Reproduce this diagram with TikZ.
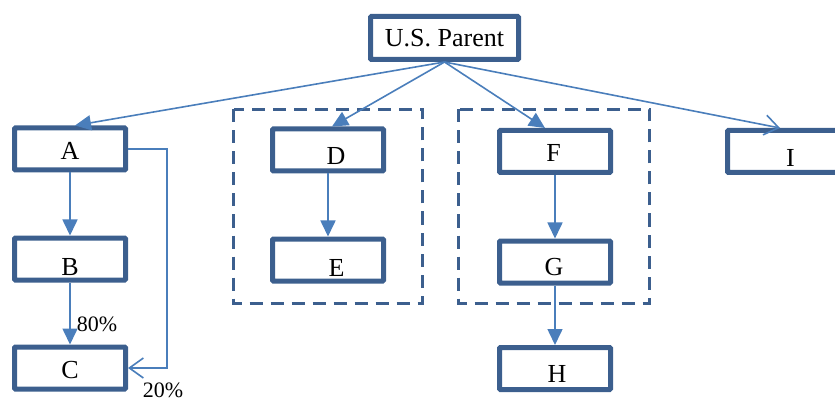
\documentclass[tikz,border=0pt]{standalone}
\usepackage{fontspec}
\setmainfont{Liberation Serif}
\usepackage{tikz}
\usetikzlibrary{arrows.meta,shapes,backgrounds,calc}
\definecolor{boxblue}{RGB}{60,95,142}
\definecolor{linkblue}{RGB}{74,126,187}

\begin{document}
\begin{tikzpicture}[x=1pt,y=-1pt,
    unit/.style={draw=boxblue,line width=5pt,rounded corners=1pt,
      minimum width=111pt,minimum height=42pt,inner sep=0pt},
    lbl/.style={font=\fontsize{26}{30}\selectfont,inner sep=0pt},
    link/.style={draw=linkblue,line width=1.6pt,-{Triangle[length=16pt,width=15pt]}},
    openlink/.style={draw=linkblue,line width=1.6pt,-{Straight Barb[length=14pt,width=20pt]}},
    group/.style={draw=boxblue,line width=3.2pt,dash pattern=on 13pt off 8pt},
    pct/.style={font=\fontsize{22}{26}\selectfont,inner sep=0pt}]
  \useasboundingbox (0,0) rectangle (835,398);
  % box with its letter, shifted a bit as in the chart
  \def\unitbox#1#2#3{
    \node[unit,label={[lbl,shift={#3}]center:#1}] (#1) at #2 {};
  }
  % Draw the groups
  \draw[group] (233.5,109.5) rectangle (422.5,303.5);
  \draw[group] (458.5,109.5) rectangle (649.5,303.5);
  % Draw the entities
  \node[unit,lbl,minimum width=148pt,minimum height=43pt] (P) at (444.5,38) {U.S. Parent};
  \unitbox{A}{(70,149)}{(0,2)}
  \unitbox{B}{(70,259)}{(0,8.5)}
  \unitbox{C}{(70,368)}{(0,2)}
  \unitbox{D}{(328,150)}{(8,6)}
  \unitbox{E}{(328,260)}{(8.5,8)}
  \unitbox{F}{(555,151.5)}{(-1.5,1)}
  \unitbox{G}{(555,262)}{(-1,5.5)}
  \unitbox{H}{(555,368.5)}{(2,5.5)}
  \unitbox{I}{(783,151.5)}{(7.5,6)}
  % Draw ownership links
  \draw[link] (P.south) -- ([xshift=5pt]A.north);
  \draw[link] (P.south) -- ([xshift=4pt]D.north);
  \draw[link] (P.south) -- ([xshift=-10pt]F.north);
  \draw[openlink] (P.south) -- ([xshift=-3pt]I.north);
  \draw[link] (A) -- (B);
  \draw[link] (B) -- (C);
  \draw[link] (D) -- (E);
  \draw[link] (F) -- (G);
  \draw[link] (G) -- (H);
  \coordinate (bend) at (167,368);
  \draw[openlink] (A.east) -| (bend) -- (C.east);
  % Draw the shares
  \node[pct] (p80) at (97,324.5) {80\%};
  \node[pct] (p20) at (163,390) {20\%};
\end{tikzpicture}
\end{document}
